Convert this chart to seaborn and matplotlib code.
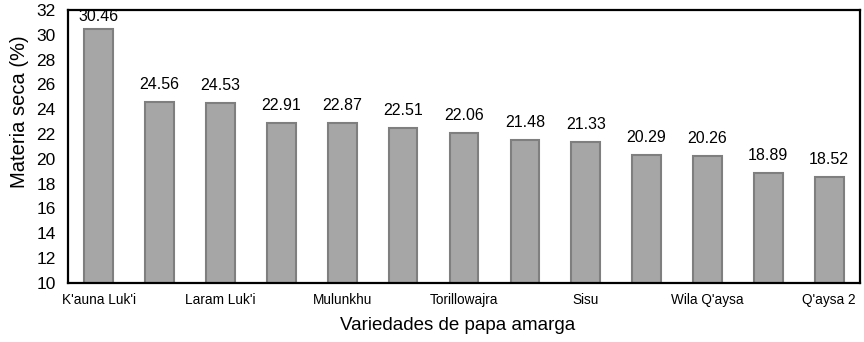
import matplotlib
matplotlib.use("Agg")
import matplotlib.pyplot as plt
import seaborn as sns
import pandas as pd

variedades = ["K'auna Luk'i", "Var 2", "Laram Luk'i", "Var 4", "Mulunkhu", "Var 6",
              "Torillowajra", "Var 8", "Sisu", "Var 10", "Wila Q'aysa", "Var 12", "Q'aysa 2"]
materia_seca = [30.46, 24.56, 24.53, 22.91, 22.87, 22.51, 22.06, 21.48, 21.33, 20.29, 20.26, 18.89, 18.52]
etiquetas_x = ["K'auna Luk'i", "", "Laram Luk'i", "", "Mulunkhu", "", "Torillowajra", "",
               "Sisu", "", "Wila Q'aysa", "", "Q'aysa 2"]
y_ticks = [10, 12, 14, 16, 18, 20, 22, 24, 26, 28, 30, 32]

sns.set_style("white")
plt.rcParams['font.family'] = ['Liberation Sans', 'DejaVu Sans']
plt.rcParams['text.color'] = 'black'
plt.rcParams['axes.labelcolor'] = 'black'
plt.rcParams['xtick.color'] = 'black'
plt.rcParams['ytick.color'] = 'black'

df = pd.DataFrame({"variedad": variedades, "ms": materia_seca})

fig = plt.figure(figsize=(8.64, 3.42), dpi=100)
ax = fig.add_axes([0.079, 0.173, 0.916, 0.798])
sns.barplot(data=df, x="variedad", y="ms", color="#A6A6A6", edgecolor="#7F7F7F",
            linewidth=1.5, width=0.47, saturation=1, ax=ax)
ax.set_ylim(10, 32)
ax.set_yticks(y_ticks)
ax.set_yticklabels([str(t) for t in y_ticks], fontsize=12.5)
ax.set_xticks(range(len(variedades)))
ax.set_xticklabels(etiquetas_x, fontsize=9.8)
ax.tick_params(axis='both', length=0)
ax.tick_params(axis='y', pad=9)
ax.tick_params(axis='x', pad=7)
for i, v in enumerate(materia_seca):
    ax.text(i, min(v + 0.8, 30.85), f"{v:.2f}", ha="center", va="bottom", fontsize=11.5)
ax.set_xlabel("Variedades de papa amarga", fontsize=13.5)
ax.set_ylabel("Materia seca (%)", fontsize=14.5)
ax.xaxis.set_label_coords(0.4925, -0.125, transform=ax.transAxes)
ax.xaxis.label.set_va("top")
ax.yaxis.set_label_coords(-0.062, 0.626, transform=ax.transAxes)
ax.yaxis.label.set_va("center")
for s in ax.spines.values():
    s.set_visible(True)
    s.set_color("black")
    s.set_linewidth(1.6)
ax.set_xlim(-0.5, len(variedades) - 0.5)
fig.savefig("out.png", dpi=100)
